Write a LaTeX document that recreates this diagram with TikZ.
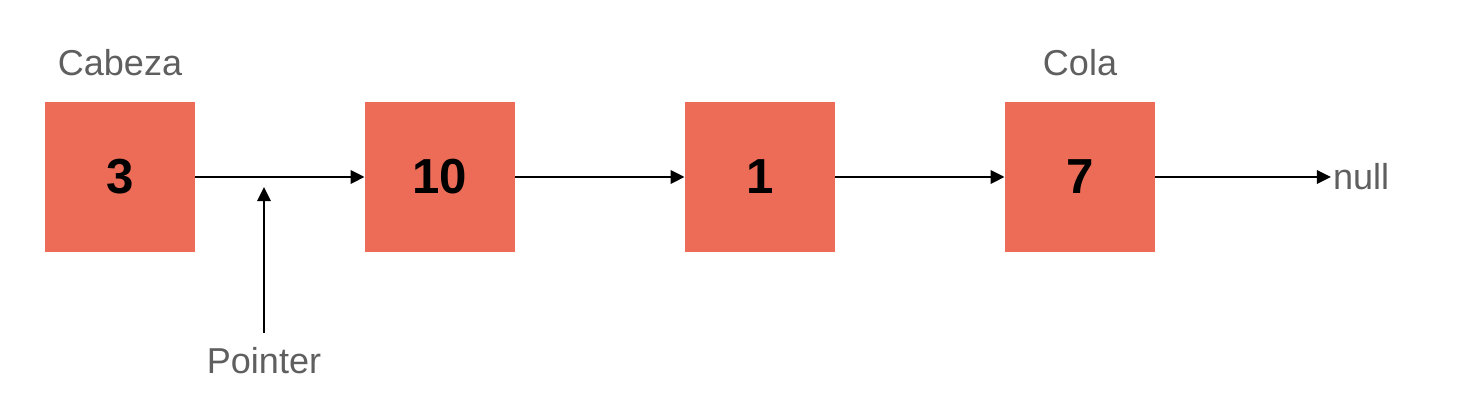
\documentclass[tikz,border=0pt]{standalone}
\usepackage{fontspec}
\setmainfont{Liberation Sans}
\usepackage{xcolor}
\usetikzlibrary{arrows.meta}
\usetikzlibrary{positioning}

\definecolor{boxcolor}{RGB}{236,108,88}
\definecolor{labelcolor}{RGB}{95,95,95}

\begin{document}
\begin{tikzpicture}[>={Triangle[length=8pt,width=7.5pt]},
    listbox/.style={rectangle, fill=boxcolor, minimum size=3cm, inner sep=0pt, font=\fontsize{28}{32}\selectfont\bfseries},
    tag/.style={text=labelcolor, font=\fontsize{20.5}{24}\selectfont},
    link/.style={->, line width=1.6pt}]

\useasboundingbox (0,0) rectangle (29.2,8.12);

% \draw (0,0) rectangle (29.2,8.12);

\def\nodes{3/2.4, 10/8.8, 1/15.2, 7/21.6}

    % boxes of the list
    \foreach [count=\i] \data/\x in \nodes {
        \node[listbox] (n\i) at (\x,4.58) {\data};
    }

    \foreach \i/\j in {1/2, 2/3, 3/4} {
        \draw[link] (n\i.east) -- (n\j.west);
    }

    \node[tag, anchor=base] (head) at ([yshift=0.52cm]n1.north) {Cabeza};
    \node[tag, anchor=base] (tail) at ([yshift=0.52cm]n4.north) {Cola};

    \node[tag, anchor=base west, inner sep=1pt] (null) at (26.62,4.32) {null};
    \draw[link] (n4.east) -- (n4.east -| null.west);

    \node[tag, anchor=base] (pointer) at (5.28,0.64) {Pointer};
    \coordinate (ptrtip) at (5.28,4.38);
    \draw[link] (pointer.base) ++(0,0.82) -- (ptrtip);

\end{tikzpicture}
\end{document}
